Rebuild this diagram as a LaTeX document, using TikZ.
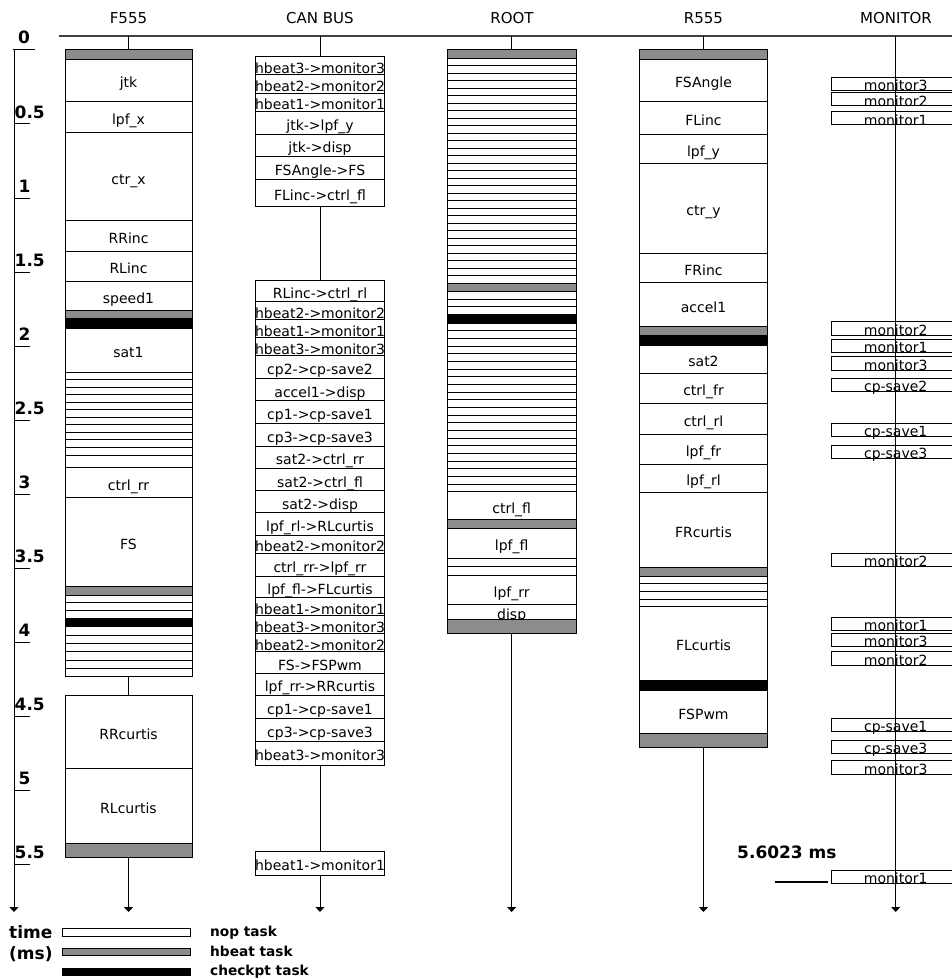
\documentclass[tikz,border=0pt]{standalone}
\usepackage{fontspec}
\setmainfont{DejaVu Sans}
\usetikzlibrary{fit,arrows.meta}
\tikzset{
  box/.style={draw, line width=1pt, fill=white, inner sep=0pt, outer sep=0pt},
  hb/.style={box, fill=black!45},
  cpk/.style={box, fill=black},
  mbox/.style={draw, line width=1pt, inner sep=0pt, outer sep=0pt},
  lbl/.style={inner sep=0pt, font=\fontsize{14}{16}\selectfont},
  hdr/.style={inner sep=0pt, font=\fontsize{15}{17}\selectfont},
  bl/.style={inner sep=0pt, font=\fontsize{17}{19}\selectfont\bfseries},
  lg/.style={inner sep=0pt, font=\fontsize{13.7}{15}\selectfont\bfseries},
  conn/.style={line width=1pt},
  arr/.style={line width=1pt, -{Triangle[width=9pt,length=5pt]}},
}
\newcommand\mkbox[6]{\node[#6, fit={(#2,#3)(#4,#5)}] (#1) {};}
\newcommand\mktask[7]{\mkbox{#1}{#2}{#3}{#4}{#5}{#6}\node[lbl, anchor=base, yshift=-7.5pt] (#1-l) at (#1.center) {#7};}
\newcommand\mkstripes[6]{%
  \mkbox{#1}{#2}{#3}{#4}{#5}{box}%
  \pgfmathtruncatemacro\nrm{#6-1}%
  \foreach \k in {1,...,\nrm}{%
    \pgfmathsetmacro\yy{#3+\k*(#5-#3)/#6}%
    \draw[conn] (#2,\yy) -- (#4,\yy);}%
}
\newcommand\mkmon[3]{\node[mbox, fit={(831.7,#2)(960,#2+13.3)}] (#1) {};\node[lbl, anchor=base, yshift=-7pt] (#1-l) at (895.7,#2+6.65) {#3};}
\def\Fa{65}\def\Fb{192}
\def\Ca{255.7}\def\Cb{384.3}
\def\Ra{447.3}\def\Rb{576}
\def\Sa{639.3}\def\Sb{767.7}
\begin{document}
\begin{tikzpicture}[x=1pt,y=-1pt]
\useasboundingbox (0,0) rectangle (952,979);
\clip (0,0) rectangle (952,979);

% headers
\node[hdr, anchor=base] (tF) at (128.5,23.3) {F555};
\node[hdr, anchor=base] (tC) at (320,23.3) {CAN BUS};
\node[hdr, anchor=base] (tR) at (512,23.3) {ROOT};
\node[hdr, anchor=base] (tS) at (703.5,23.3) {R555};
\node[hdr, anchor=base] (tM) at (896,23.3) {MONITOR};
\coordinate (hl0) at (59,36);
\coordinate (hl1) at (952,36);
\draw[line width=1.6pt, black!75] (hl0) -- (hl1);
\coordinate (hF) at (128.5,36);
\coordinate (hC) at (320,36);
\coordinate (hR) at (511.65,36);
\coordinate (hS) at (703.5,36);
\coordinate (hM) at (895.7,36);
\coordinate (eF) at (128.5,912);
\coordinate (eC) at (320,912);
\coordinate (eR) at (511.65,912);
\coordinate (eS) at (703.5,912);
\coordinate (eM) at (895.7,912);

% time axis
\coordinate (ax0) at (14,50);
\coordinate (ax1) at (14,912);
\draw[arr] (ax0) -- (ax1);
\draw[conn] (13,50) -- (35,50);
\node[bl, anchor=base west] (a0) at (18,43.5) {0};
\foreach \t/\lab/\xx in {0.5/0.5/14.5,1/1/18.5,1.5/1.5/14.5,2/2/18.5,2.5/2.5/14.5,3/3/18.5,3.5/3.5/14.5,4/4/18.5,4.5/4.5/14.5,5/5/18.5,5.5/5.5/14.5}{
  \pgfmathsetmacro\ty{50+148*\t}
  \draw[conn] (14,\ty) -- (30,\ty);
  \node[bl, anchor=base west] (a\lab) at (\xx,\ty-5.5) {\lab};
}

% F555
\mkbox{f0}{\Fa}{50}{\Fb}{59.3}{hb}
\mktask{f1}{\Fa}{59.3}{\Fb}{101.7}{box}{jtk}
\mktask{f2}{\Fa}{101.7}{\Fb}{132.3}{box}{lpf\_x}
\mktask{f3}{\Fa}{132.3}{\Fb}{220.7}{box}{ctr\_x}
\mktask{f4}{\Fa}{220.7}{\Fb}{251}{box}{RRinc}
\mktask{f5}{\Fa}{251}{\Fb}{281}{box}{RLinc}
\mktask{f6}{\Fa}{281}{\Fb}{310}{box}{speed1}
\mkbox{f7}{\Fa}{310}{\Fb}{318.3}{hb}
\mkbox{f8}{\Fa}{318.3}{\Fb}{328.3}{cpk}
\mktask{f9}{\Fa}{328.3}{\Fb}{372.3}{box}{sat1}
\mkstripes{f10}{\Fa}{372.3}{\Fb}{455}{11}
\mkbox{f11}{\Fa}{455}{\Fb}{467.7}{box}
\mktask{f12}{\Fa}{467.7}{\Fb}{497.7}{box}{ctrl\_rr}
\mktask{f13}{\Fa}{497.7}{\Fb}{586}{box}{FS}
\mkbox{f14}{\Fa}{586}{\Fb}{595}{hb}
\mkstripes{f15}{\Fa}{595}{\Fb}{618.3}{3}
\mkbox{f16}{\Fa}{618.3}{\Fb}{626.7}{cpk}
\mkstripes{f17}{\Fa}{626.7}{\Fb}{676.7}{6}
\mktask{f18}{\Fa}{695}{\Fb}{768}{box}{RRcurtis}
\mktask{f19}{\Fa}{768}{\Fb}{843}{box}{RLcurtis}
\mkbox{f20}{\Fa}{843}{\Fb}{857}{hb}
\draw[conn] (hF) -- (f0.north);
\draw[conn] (f17.south) -- (f18.north);
\draw[arr] (f20.south) -- (eF);

% CAN BUS
\mktask{c1}{\Ca}{56.7}{\Cb}{75}{box}{hbeat3->monitor3}
\mktask{c2}{\Ca}{75}{\Cb}{93.3}{box}{hbeat2->monitor2}
\mktask{c3}{\Ca}{93.3}{\Cb}{111.7}{box}{hbeat1->monitor1}
\mktask{c4}{\Ca}{111.7}{\Cb}{134.3}{box}{jtk->lpf\_y}
\mktask{c5}{\Ca}{134.3}{\Cb}{156.7}{box}{jtk->disp}
\mktask{c6}{\Ca}{156.7}{\Cb}{179}{box}{FSAngle->FS}
\mktask{c7}{\Ca}{179}{\Cb}{206.7}{box}{FLinc->ctrl\_fl}
\mktask{c8}{\Ca}{280}{\Cb}{301.7}{box}{RLinc->ctrl\_rl}
\mktask{c9}{\Ca}{301.7}{\Cb}{319.7}{box}{hbeat2->monitor2}
\mktask{c10}{\Ca}{319.7}{\Cb}{337.7}{box}{hbeat1->monitor1}
\mktask{c11}{\Ca}{337.7}{\Cb}{355.7}{box}{hbeat3->monitor3}
\mktask{c12}{\Ca}{355.7}{\Cb}{378.3}{box}{cp2->cp-save2}
\mktask{c13}{\Ca}{378.3}{\Cb}{400.7}{box}{accel1->disp}
\mktask{c14}{\Ca}{400.7}{\Cb}{423.3}{box}{cp1->cp-save1}
\mktask{c15}{\Ca}{423.3}{\Cb}{446}{box}{cp3->cp-save3}
\mktask{c16}{\Ca}{446}{\Cb}{468.3}{box}{sat2->ctrl\_rr}
\mktask{c17}{\Ca}{468.3}{\Cb}{490.7}{box}{sat2->ctrl\_fl}
\mktask{c18}{\Ca}{490.7}{\Cb}{512.7}{box}{sat2->disp}
\mktask{c19}{\Ca}{512.7}{\Cb}{535}{box}{lpf\_rl->RLcurtis}
\mktask{c20}{\Ca}{535}{\Cb}{553.3}{box}{hbeat2->monitor2}
\mktask{c21}{\Ca}{553.3}{\Cb}{576}{box}{ctrl\_rr->lpf\_rr}
\mktask{c22}{\Ca}{576}{\Cb}{597.7}{box}{lpf\_fl->FLcurtis}
\mktask{c23}{\Ca}{597.7}{\Cb}{615.7}{box}{hbeat1->monitor1}
\mktask{c24}{\Ca}{615.7}{\Cb}{633.7}{box}{hbeat3->monitor3}
\mktask{c25}{\Ca}{633.7}{\Cb}{651.7}{box}{hbeat2->monitor2}
\mktask{c26}{\Ca}{651.7}{\Cb}{673.3}{box}{FS->FSPwm}
\mktask{c27}{\Ca}{673.3}{\Cb}{695}{box}{lpf\_rr->RRcurtis}
\mktask{c28}{\Ca}{695}{\Cb}{718.3}{box}{cp1->cp-save1}
\mktask{c29}{\Ca}{718.3}{\Cb}{741.7}{box}{cp3->cp-save3}
\mktask{c30}{\Ca}{741.7}{\Cb}{765}{box}{hbeat3->monitor3}
\mktask{c31}{\Ca}{851.7}{\Cb}{875}{box}{hbeat1->monitor1}
\draw[conn] (hC) -- (c1.north);
\draw[conn] (c7.south) -- (c8.north);
\draw[conn] (c30.south) -- (c31.north);
\draw[arr] (c31.south) -- (eC);

% ROOT
\mkbox{r0}{\Ra}{50}{\Rb}{58.3}{hb}
\mkstripes{r1}{\Ra}{58.3}{\Rb}{283.3}{30}
\mkbox{r2}{\Ra}{283.3}{\Rb}{291.7}{hb}
\mkstripes{r3}{\Ra}{291.7}{\Rb}{314.3}{3}
\mkbox{r4}{\Ra}{314.3}{\Rb}{323.3}{cpk}
\mkstripes{r5}{\Ra}{323.3}{\Rb}{491.7}{22}
\mktask{r6}{\Ra}{491.7}{\Rb}{519.3}{box}{ctrl\_fl}
\mkbox{r7}{\Ra}{519.3}{\Rb}{528.3}{hb}
\mktask{r8}{\Ra}{528.3}{\Rb}{558.3}{box}{lpf\_fl}
\mkstripes{r9}{\Ra}{558.3}{\Rb}{575}{2}
\mktask{r10}{\Ra}{575}{\Rb}{604.3}{box}{lpf\_rr}
\mktask{r11}{\Ra}{604.3}{\Rb}{619}{box}{disp}
\mkbox{r12}{\Ra}{619}{\Rb}{633.3}{hb}
\draw[conn] (hR) -- (r0.north);
\draw[arr] (r12.south) -- (eR);

% R555
\mkbox{s0}{\Sa}{50}{\Sb}{59.3}{hb}
\mktask{s1}{\Sa}{59.3}{\Sb}{101.7}{box}{FSAngle}
\mktask{s2}{\Sa}{101.7}{\Sb}{134}{box}{FLinc}
\mktask{s3}{\Sa}{134}{\Sb}{163.3}{box}{lpf\_y}
\mktask{s4}{\Sa}{163.3}{\Sb}{253.3}{box}{ctr\_y}
\mktask{s5}{\Sa}{253.3}{\Sb}{282.7}{box}{FRinc}
\mktask{s6}{\Sa}{282.7}{\Sb}{326.7}{box}{accel1}
\mkbox{s7}{\Sa}{326.7}{\Sb}{335}{hb}
\mkbox{s8}{\Sa}{335}{\Sb}{345}{cpk}
\mktask{s9}{\Sa}{345}{\Sb}{373.3}{box}{sat2}
\mktask{s10}{\Sa}{373.3}{\Sb}{403.3}{box}{ctrl\_fr}
\mktask{s11}{\Sa}{403.3}{\Sb}{434}{box}{ctrl\_rl}
\mktask{s12}{\Sa}{434}{\Sb}{464}{box}{lpf\_fr}
\mktask{s13}{\Sa}{464}{\Sb}{492.7}{box}{lpf\_rl}
\mktask{s14}{\Sa}{492.7}{\Sb}{567.3}{box}{FRcurtis}
\mkbox{s15}{\Sa}{567.3}{\Sb}{576}{hb}
\mkstripes{s16}{\Sa}{576}{\Sb}{606.7}{4}
\mktask{s17}{\Sa}{606.7}{\Sb}{680}{box}{FLcurtis}
\mkbox{s18}{\Sa}{680}{\Sb}{690}{cpk}
\mktask{s19}{\Sa}{690}{\Sb}{733.3}{box}{FSPwm}
\mkbox{s20}{\Sa}{733.3}{\Sb}{747.3}{hb}
\draw[conn] (hS) -- (s0.north);
\draw[arr] (s20.south) -- (eS);

% MONITOR
\draw[arr] (hM) -- (eM);
\mkmon{m1}{77.3}{monitor3}
\mkmon{m2}{92.7}{monitor2}
\mkmon{m3}{111.7}{monitor1}
\mkmon{m4}{321.7}{monitor2}
\mkmon{m5}{339}{monitor1}
\mkmon{m6}{356.7}{monitor3}
\mkmon{m7}{378.3}{cp-save2}
\mkmon{m8}{423.3}{cp-save1}
\mkmon{m9}{445.3}{cp-save3}
\mkmon{m10}{553.3}{monitor2}
\mkmon{m11}{617.3}{monitor1}
\mkmon{m12}{633.3}{monitor3}
\mkmon{m13}{651.7}{monitor2}
\mkmon{m14}{718.3}{cp-save1}
\mkmon{m15}{740.3}{cp-save3}
\mkmon{m16}{760.7}{monitor3}
\mkmon{m17}{870.3}{monitor1}

% end time
\node[bl, anchor=base west] (endt) at (737,858) {5.6023 ms};
\coordinate (el0) at (775,881.7);
\coordinate (el1) at (828.3,881.7);
\draw[line width=2pt] (el0) -- (el1);

% legend
\node[bl, anchor=base west] (ltime) at (9,938) {time};
\node[bl, anchor=base west] (lms) at (9,959) {(ms)};
\mkbox{lg1}{62.3}{928.3}{190.7}{936.7}{box}
\mkbox{lg2}{62.3}{948.3}{190.7}{955}{hb}
\mkbox{lg3}{62.3}{968.3}{190.7}{975}{cpk}
\node[lg, anchor=base west] (lt1) at (210,936) {nop task};
\node[lg, anchor=base west] (lt2) at (210,956) {hbeat task};
\node[lg, anchor=base west] (lt3) at (210,975) {checkpt task};
\end{tikzpicture}
\end{document}
